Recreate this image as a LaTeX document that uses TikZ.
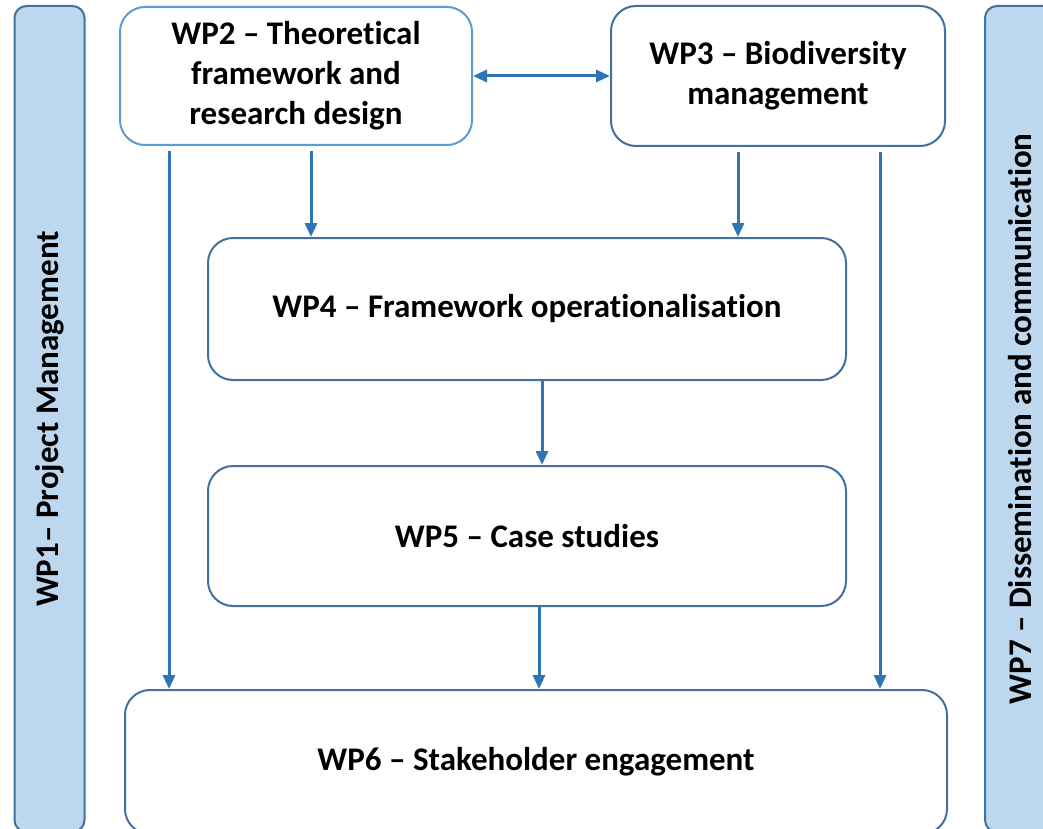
\documentclass[tikz,border=0pt]{standalone}
\usepackage{fontspec}
\setmainfont{Carlito}[Ligatures={NoCommon,NoRare,NoDiscretionary}]
\usetikzlibrary{arrows.meta,calc}
\definecolor{barfill}{HTML}{BDD7EE}
\definecolor{darkedge}{HTML}{41719C}
\definecolor{lightedge}{HTML}{5B9BD5}
\definecolor{arrowblue}{HTML}{2E75B6}
\begin{document}
\begin{tikzpicture}[x=1pt,y=-1pt,
  every node/.style={font=\fontsize{33}{40}\selectfont\bfseries, align=center, inner sep=0pt},
  wpbox/.style={draw=darkedge, line width=2pt, rounded corners=25pt, fill=white},
  wplight/.style={draw=lightedge, line width=2pt, rounded corners=25pt, fill=white},
  barbox/.style={draw=darkedge, line width=2pt, rounded corners=12pt, fill=barfill, rotate=90, minimum height=70pt},
  arr/.style={draw=arrowblue, line width=3pt, -{Triangle[length=14pt,width=12pt]}},
  darr/.style={draw=arrowblue, line width=3pt, {Triangle[length=14pt,width=12pt]}-{Triangle[length=14pt,width=12pt]}}
]
\clip (0,0) rectangle (1043,829);
\fill[white] (0,0) rectangle (1043,829);

\node[barbox, minimum width=826pt] (wp1) at (49.5,419) {WP1– Project Management};
\node[barbox, minimum width=826pt] (wp7) at (1020,419) {WP7 – Dissemination and communication};

\node[wplight, minimum width=352pt, minimum height=138pt] (wp2) at (296,76) {WP2 – Theoretical\\framework and\\research design};
\node[wpbox, minimum width=334pt, minimum height=140pt] (wp3) at (778,76) {WP3 – Biodiversity\\management};
\node[wpbox, minimum width=638pt, minimum height=142pt] (wp4) at (527,309) {WP4 – Framework operationalisation};
\node[wpbox, minimum width=638pt, minimum height=140pt] (wp5) at (527,536) {WP5 – Case studies};
\node[wpbox, minimum width=822pt, minimum height=144pt] (wp6) at (536,762) {WP6 – Stakeholder engagement};

\draw[darr] (wp2.east) -- (wp3.west);

\coordinate (s1) at ([xshift=50pt,yshift=-5pt]wp2.south west);
\coordinate (s2) at ([xshift=192pt,yshift=-5pt]wp2.south west);
\coordinate (s3) at ([xshift=128pt,yshift=-5pt]wp3.south west);
\coordinate (s4) at ([xshift=270pt,yshift=-5pt]wp3.south west);
\coordinate (s5) at ([xshift=335pt]wp4.south west);
\coordinate (s6) at ([xshift=332pt]wp5.south west);

\draw[arr] (s1) -- (s1 |- wp6.north);
\draw[arr] (s2) -- (s2 |- wp4.north);
\draw[arr] (s3) -- (s3 |- wp4.north);
\draw[arr] (s4) -- (s4 |- wp6.north);
\draw[arr] (s5) -- (s5 |- wp5.north);
\draw[arr] (s6) -- (s6 |- wp6.north);
\end{tikzpicture}
\end{document}
